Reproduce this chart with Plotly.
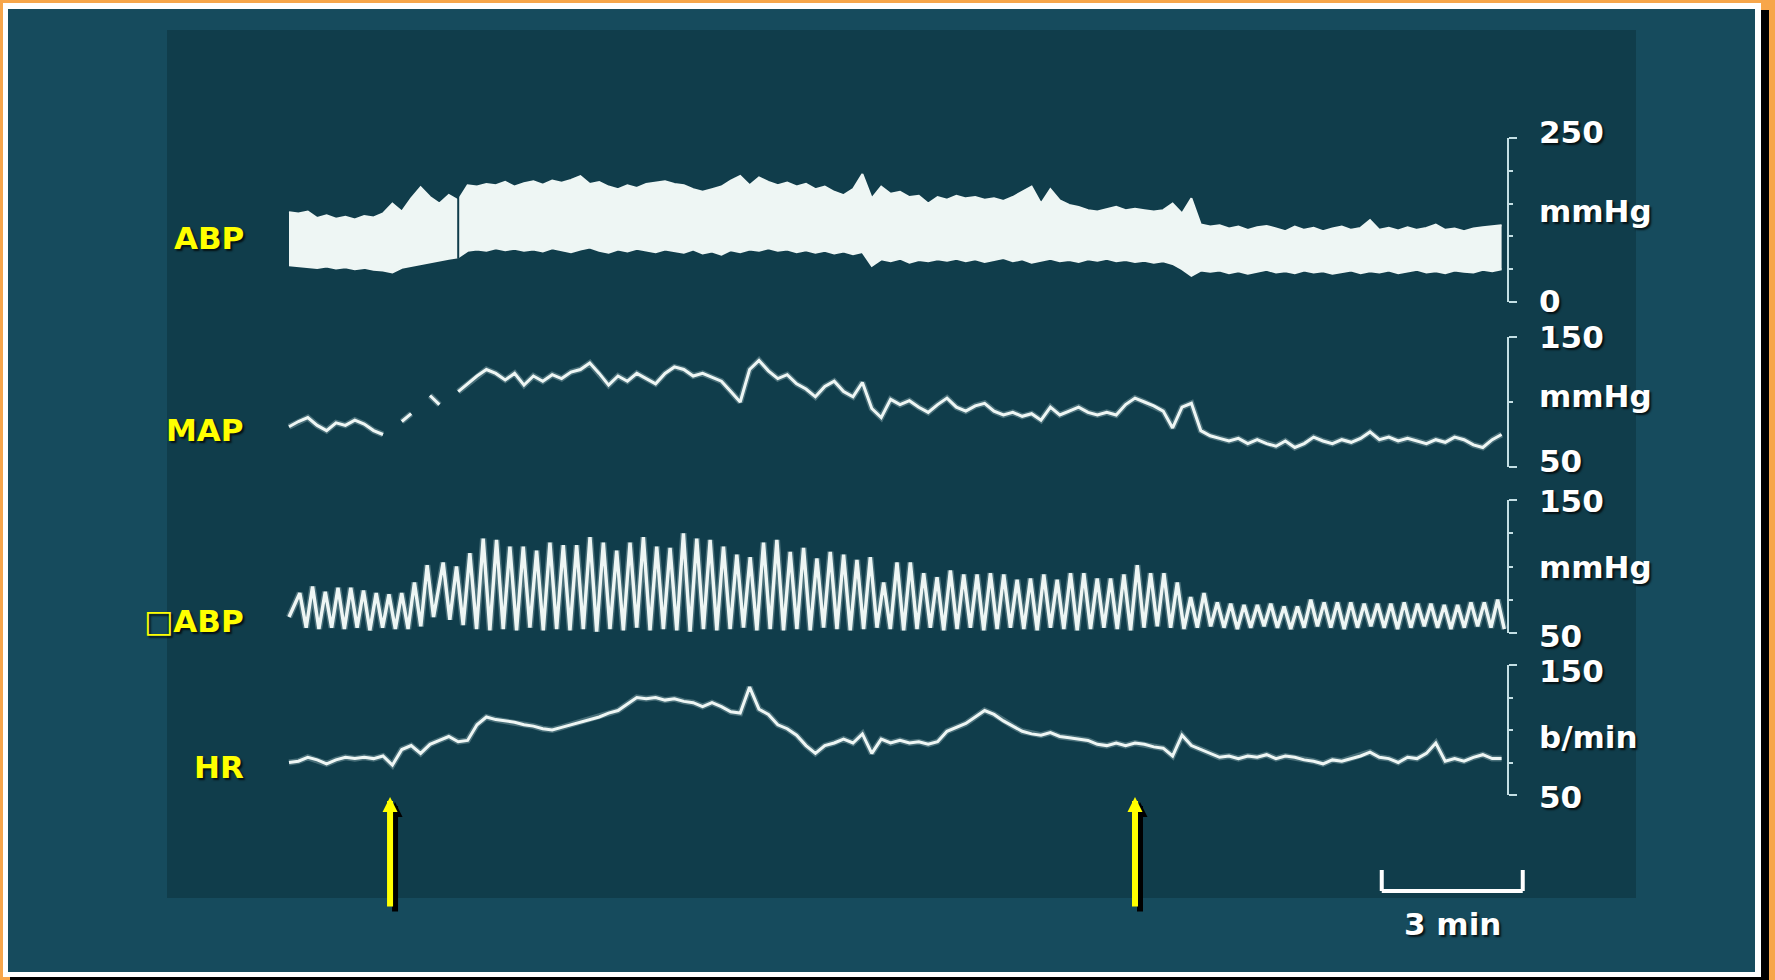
import plotly.graph_objects as go

W, H = 1775, 980

# ---------------------------------------------------------------------------
# Slow channels, one sample every SAMPLE_DT minutes from the start of the strip
# ---------------------------------------------------------------------------
SAMPLE_DT = 0.2

# ABP envelope (systolic / diastolic), mmHg
ABP_SYS = [
    137, 135, 138, 128, 132, 127, 130, 126, 131, 129,
    135, 150, 138, 158, 175, 160, 150, 163, 155, 178,
    176, 180, 178, 183, 176, 181, 184, 179, 185, 182,
    186, 192, 180, 183, 176, 172, 178, 174, 180, 182,
    184, 180, 178, 172, 168, 172, 176, 185, 192, 178,
    190, 183, 178, 182, 176, 180, 172, 176, 168, 163,
    172, 195, 158, 176, 165, 168, 160, 162, 150, 160,
    156, 162, 158, 160, 156, 158, 154, 160, 168, 176,
    150, 172, 155, 148, 145, 140, 138, 142, 145, 140,
    142, 140, 138, 140, 150, 135, 158, 118, 115, 117,
    112, 115, 110, 114, 116, 112, 108, 115, 110, 113,
    108, 112, 115, 110, 113, 125, 110, 113, 109, 114,
    110, 113, 118, 110, 112, 108, 112, 114, 115, 117,
]
ABP_DIA = [
    56, 55, 54, 52, 54, 51, 53, 50, 52, 49,
    48, 45, 52, 55, 58, 60, 63, 66, 68, 78,
    80, 78, 82, 79, 81, 78, 80, 77, 82, 79,
    76, 80, 83, 78, 75, 80, 77, 81, 78, 76,
    80, 78, 75, 80, 74, 77, 72, 79, 76, 80,
    78, 82, 78, 80, 76, 79, 75, 78, 74, 77,
    73, 76, 55, 65, 62, 66, 60, 64, 62, 65,
    63, 66, 62, 65, 61, 64, 67, 62, 65, 60,
    63, 66, 62, 64, 61, 65, 63, 66, 62, 64,
    61, 63, 60, 62, 58, 50, 40, 48, 46, 48,
    44, 47, 43, 46, 49, 45, 47, 44, 48, 45,
    47, 43, 46, 48, 44, 47, 45, 48, 44, 46,
    49, 45, 47, 44, 48, 46, 45, 49, 47, 50,
]
ABP_PEN_LIFT_MIN = 3.6  # short pen lift on the ABP channel

# Mean arterial pressure, mmHg (None = no ink)
MAP = [
    81, 85, 88, 82, 78, 84, 82, 86, 83, 78,
    75, None, 85, 91, None, 105, 98, None, 108, 114,
    120, 125, 122, 117, 122, 113, 120, 116, 121, 118,
    123, 125, 130, 122, 113, 120, 116, 122, 118, 114,
    122, 127, 125, 120, 122, 119, 116, 108, 100, 125,
    132, 124, 118, 121, 114, 110, 104, 112, 116, 108,
    104, 115, 95, 88, 102, 98, 101, 96, 92, 98,
    103, 96, 93, 97, 99, 93, 90, 92, 89, 91,
    86, 96, 90, 93, 96, 92, 90, 92, 90, 98,
    103, 100, 97, 93, 80, 96, 99, 78, 74, 72,
    70, 72, 68, 71, 68, 66, 70, 65, 68, 73,
    70, 68, 71, 69, 72, 77, 71, 73, 70, 72,
    70, 68, 71, 69, 73, 71, 67, 65, 71, 75,
]

# Heart rate, beats/min
HR = [
    75, 76, 79, 77, 74, 77, 79, 78, 79, 78,
    80, 73, 85, 88, 82, 89, 92, 95, 91, 92,
    104, 110, 108, 107, 106, 104, 103, 101, 100, 102,
    104, 106, 108, 110, 113, 115, 120, 125, 124, 125,
    123, 124, 122, 121, 118, 121, 118, 114, 113, 133,
    116, 112, 104, 101, 96, 88, 82, 88, 90, 93,
    90, 97, 82, 93, 90, 92, 90, 91, 89, 91,
    99, 102, 105, 110, 115, 112, 107, 103, 99, 97,
    96, 98, 95, 94, 93, 92, 89, 88, 90, 88,
    90, 89, 87, 86, 80, 96, 88, 85, 82, 79,
    80, 78, 80, 79, 81, 78, 80, 79, 77, 76,
    74, 77, 76, 78, 80, 83, 79, 78, 75, 79,
    78, 82, 90, 76, 78, 76, 79, 81, 78, 78,
]

# ---------------------------------------------------------------------------
# Oscillating pressure channel: one peak and one trough per cycle, two runs
# ---------------------------------------------------------------------------
DABP_START_VALUE = 62
DABP_RUN1_START, DABP_RUN1_PERIOD = 0.23, 0.271
DABP_RUN1_PEAK = [80, 85, 81, 84, 84, 82, 80, 79, 80, 88, 101]
DABP_RUN1_TROUGH = [54, 53, 54, 53, 54, 52, 54, 53, 53, 55, 62]
DABP_RUN2_START, DABP_RUN2_PERIOD = 3.28, 0.284
DABP_RUN2_PEAK = [
    103, 100, 110, 121, 120, 115, 115, 112, 118, 116, 116, 122, 118,
    112, 118, 122, 115, 114, 125, 121, 120, 115, 109, 107, 118, 120,
    111, 114, 106, 111, 109, 105, 107, 88, 103, 103, 95, 92, 97, 94,
    94, 95, 94, 90, 91, 94, 90, 95, 95, 91, 91, 94, 101,
    95, 95, 88, 77, 80, 73, 72, 71, 71, 72, 70, 70, 75, 73,
    73, 73, 72, 72, 72, 73, 72, 72, 71, 71, 73, 73, 75,
]
DABP_RUN2_TROUGH = [
    60, 56, 53, 52, 53, 52, 54, 52, 53, 52, 53, 51, 53,
    52, 54, 52, 53, 52, 51, 53, 52, 53, 54, 52, 53, 52,
    53, 52, 54, 53, 52, 53, 54, 53, 52, 53, 54, 52, 53, 54,
    52, 53, 54, 53, 52, 54, 53, 52, 53, 54, 53, 52, 54,
    55, 54, 53, 54, 55, 54, 53, 54, 55, 54, 53, 54, 55, 54,
    53, 54, 55, 54, 53, 54, 55, 54, 53, 54, 55, 54, 53,
]

# Interventions (minutes) and time scale bar
EVENT_MIN = [2.15, 18.0]
SCALEBAR_START_MIN = 23.25
SCALEBAR_LEN_MIN = 3

# Channel labels and calibration text
LEFT_LABELS = ["ABP", "MAP", "\u25a1ABP", "HR"]
CAL_TEXT = [
    ["250", "mmHg", "0"],
    ["150", "mmHg", "50"],
    ["150", "mmHg", "50"],
    ["150", "b/min", "50"],
]
CHANNEL_RANGES = [(0, 250), (50, 150), (50, 150), (50, 150)]
CHANNEL_MINOR_STEP = [50, 50, 25, 25]

# ---------------------------------------------------------------------------
# Page geometry (pixels)
# ---------------------------------------------------------------------------
ORIGIN_PX = 289          # x pixel of t = 0
PX_PER_MIN = 47
CHANNEL_PX = [(138, 302), (337, 467), (500, 633), (665, 795)]  # top, bottom of each scale
BRACKET_X_PX = 1508
LEFT_LABEL_X_PX = 246
LEFT_LABEL_Y_PX = [238, 430, 621, 767]
CAL_X_PX = 1537
CAL_Y_PX = [[132, 211, 301], [337, 396, 461], [501, 567, 636], [671, 737, 797]]

BG_FRAME = "#f7a64a"
BG_OUTER = "#164b5d"
BG_PANEL = "#103d4b"
INK = "#eef6f4"
GLOW = "rgba(220,240,240,0.28)"
BRACKET = "#c4dfe4"
YELLOW = "#ffff00"
FONT = "DejaVu Sans"
SHADOW = "2px 2px 2px rgba(0,0,0,0.75)"


def px_x(px):
    return px / W


def px_y(py):
    return 1 - py / H


t_slow = [round(i * SAMPLE_DT, 2) for i in range(len(ABP_SYS))]

dabp_t, dabp_v = [0.0], [DABP_START_VALUE]
for start, period, peaks, troughs in [
    (DABP_RUN1_START, DABP_RUN1_PERIOD, DABP_RUN1_PEAK, DABP_RUN1_TROUGH),
    (DABP_RUN2_START, DABP_RUN2_PERIOD, DABP_RUN2_PEAK, DABP_RUN2_TROUGH),
]:
    for i, (pk, tr) in enumerate(zip(peaks, troughs)):
        tp = start + i * period
        dabp_t += [tp, tp + period / 2]
        dabp_v += [pk, tr]

fig = go.Figure()

# ABP as a filled envelope
fig.add_trace(go.Scatter(x=t_slow, y=ABP_DIA, mode="lines", yaxis="y",
                         line=dict(color=INK, width=2), hoverinfo="skip"))
fig.add_trace(go.Scatter(x=t_slow, y=ABP_SYS, mode="lines", yaxis="y", fill="tonexty",
                         fillcolor=INK, line=dict(color=INK, width=2), hoverinfo="skip"))
gap_i = t_slow.index(ABP_PEN_LIFT_MIN)
fig.add_trace(go.Scatter(x=[ABP_PEN_LIFT_MIN, ABP_PEN_LIFT_MIN],
                         y=[ABP_DIA[gap_i] - 2, ABP_SYS[gap_i] + 6], mode="lines", yaxis="y",
                         line=dict(color=BG_PANEL, width=2), hoverinfo="skip"))

# Pen traces: a soft halo under each line
for xs, ys, ax, width in [
    (t_slow, MAP, "y2", 3),
    (dabp_t, dabp_v, "y3", 3.4),
    (t_slow, HR, "y4", 3),
]:
    fig.add_trace(go.Scatter(x=xs, y=ys, mode="lines", yaxis=ax, connectgaps=False,
                             line=dict(color=GLOW, width=width + 3), hoverinfo="skip"))
    fig.add_trace(go.Scatter(x=xs, y=ys, mode="lines", yaxis=ax, connectgaps=False,
                             line=dict(color=INK, width=width), hoverinfo="skip"))

# Calibration brackets are the channels' own y axes
axes = {}
for k, ((lo, hi), (ptop, pbot), step) in enumerate(zip(CHANNEL_RANGES, CHANNEL_PX, CHANNEL_MINOR_STEP)):
    name = "yaxis" if k == 0 else f"yaxis{k + 1}"
    axes[name] = dict(
        domain=[px_y(pbot), px_y(ptop)], range=[lo, hi], side="right",
        anchor="free", position=px_x(BRACKET_X_PX),
        showline=True, linecolor=BRACKET, linewidth=2,
        tickmode="array", tickvals=[lo, hi], ticks="outside", ticklen=8,
        tickwidth=2, tickcolor=BRACKET, showticklabels=False,
        minor=dict(ticks="outside", ticklen=4, tickwidth=2, tickcolor=BRACKET,
                   tick0=lo, dtick=step),
        showgrid=False, zeroline=False,
    )

x_range = [-ORIGIN_PX / PX_PER_MIN, (W - ORIGIN_PX) / PX_PER_MIN]

shapes = [
    dict(type="rect", xref="paper", yref="paper", x0=px_x(10), x1=px_x(1769),
         y0=px_y(10), y1=px_y(984), fillcolor="#000000", line=dict(width=0), layer="below"),
    dict(type="rect", xref="paper", yref="paper", x0=px_x(3), x1=px_x(1761),
         y0=px_y(3), y1=px_y(977), fillcolor="#ffffff", line=dict(width=0), layer="below"),
    dict(type="rect", xref="paper", yref="paper", x0=px_x(8), x1=px_x(1755),
         y0=px_y(9), y1=px_y(972), fillcolor=BG_OUTER, line=dict(width=0), layer="below"),
    dict(type="rect", xref="paper", yref="paper", x0=px_x(167), x1=px_x(1636),
         y0=px_y(30), y1=px_y(898), fillcolor=BG_PANEL, line=dict(width=0), layer="below"),
]

# 3-minute scale bar
sb0, sb1 = SCALEBAR_START_MIN, SCALEBAR_START_MIN + SCALEBAR_LEN_MIN
bar_y, tick_top = px_y(891), px_y(870)
for sx0, sy0, sx1, sy1 in [(sb0, bar_y, sb1, bar_y), (sb0, bar_y, sb0, tick_top), (sb1, bar_y, sb1, tick_top)]:
    shapes.append(dict(type="line", xref="x", yref="paper", x0=sx0, x1=sx1, y0=sy0, y1=sy1,
                       line=dict(color="#ffffff", width=4), layer="above"))

annotations = []
for lab, ypx in zip(LEFT_LABELS, LEFT_LABEL_Y_PX):
    annotations.append(dict(text=f"<b>{lab}</b>", xref="paper", yref="paper",
                            x=px_x(LEFT_LABEL_X_PX), y=px_y(ypx), xanchor="right", yanchor="middle",
                            showarrow=False,
                            font=dict(family=FONT, size=31, color=YELLOW, shadow=SHADOW)))
for texts, ys in zip(CAL_TEXT, CAL_Y_PX):
    for txt, ypx in zip(texts, ys):
        annotations.append(dict(text=f"<b>{txt}</b>", xref="paper", yref="paper",
                                x=px_x(CAL_X_PX), y=px_y(ypx), xanchor="left", yanchor="middle",
                                showarrow=False,
                                font=dict(family=FONT, size=31, color="#ffffff", shadow=SHADOW)))
annotations.append(dict(text="<b>3 min</b>", xref="x", yref="paper",
                        x=(sb0 + sb1) / 2, y=px_y(924), xanchor="center", yanchor="middle",
                        showarrow=False,
                        font=dict(family=FONT, size=31, color="#ffffff", shadow=SHADOW)))

# Event arrows, black drop shadow first
for ev in EVENT_MIN:
    for color, dx, dy in [("#000000", 5, -5), (YELLOW, 0, 0)]:
        annotations.append(dict(text="", xref="x", yref="paper", x=ev, y=px_y(797),
                                ax=0, ay=111, axref="pixel", ayref="pixel",
                                showarrow=True, arrowhead=2, arrowsize=0.5, arrowwidth=6,
                                arrowcolor=color, standoff=0, startstandoff=0,
                                xshift=dx, yshift=dy))

fig.update_layout(
    width=W, height=H, margin=dict(l=0, r=0, t=0, b=0, pad=0),
    paper_bgcolor=BG_FRAME, plot_bgcolor="rgba(0,0,0,0)",
    showlegend=False,
    xaxis=dict(domain=[0, 1], range=x_range, visible=False, fixedrange=True),
    shapes=shapes, annotations=annotations,
    **axes,
)

fig.write_html("out.html")
